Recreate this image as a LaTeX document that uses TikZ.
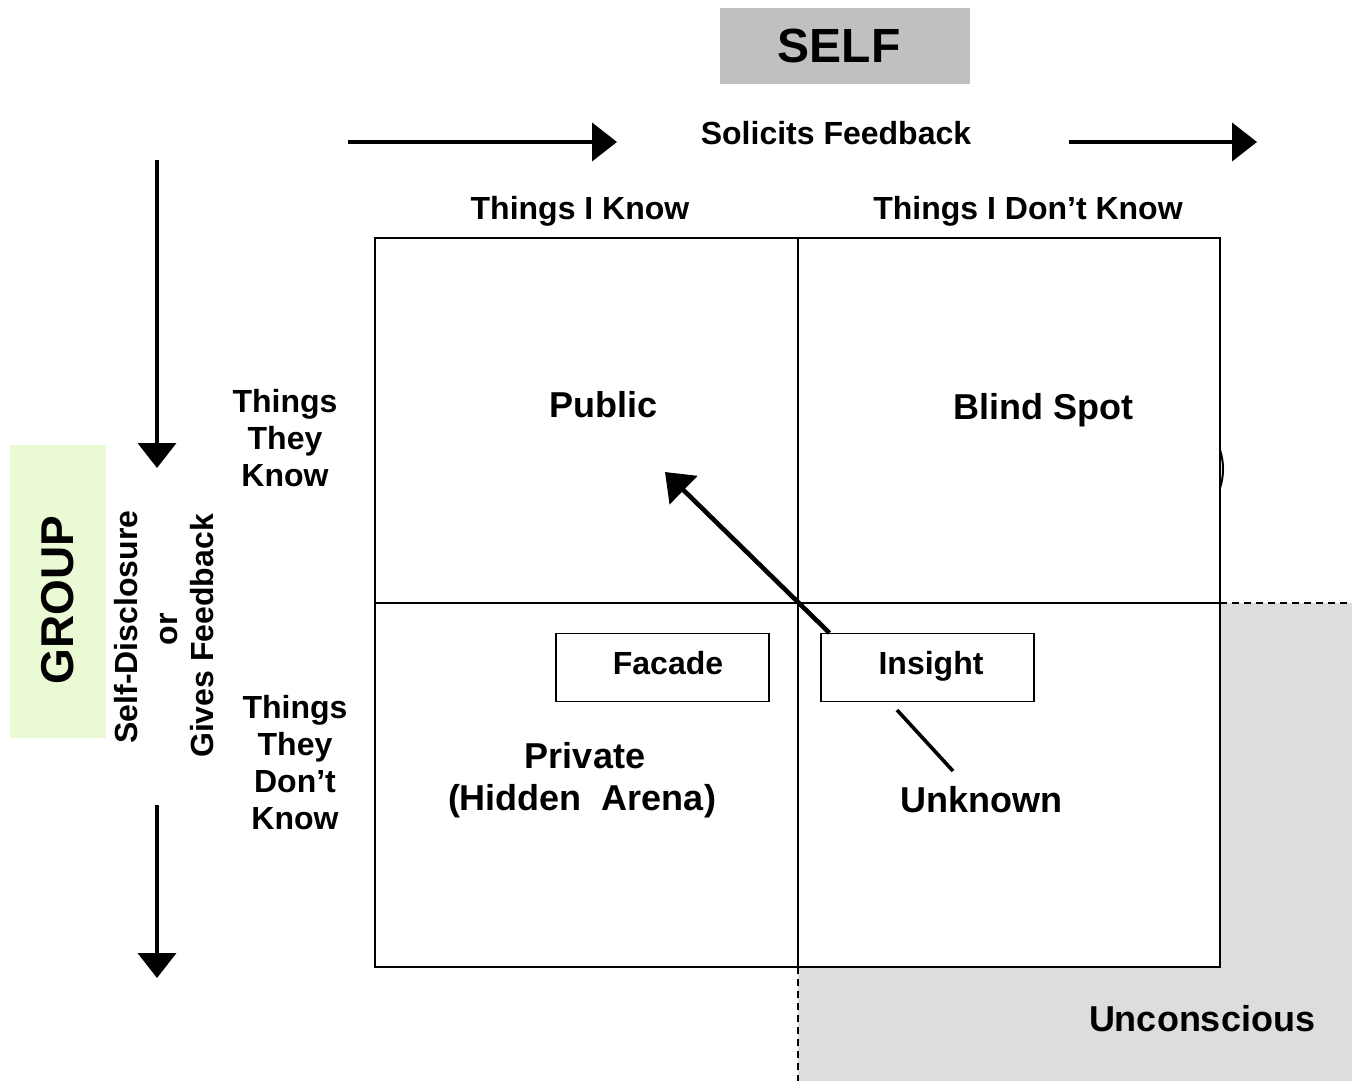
\documentclass[tikz,border=0pt]{standalone}
\usepackage{fontspec}
\setmainfont{Liberation Sans}
\usetikzlibrary{arrows.meta,calc}
\definecolor{selfgray}{RGB}{192,192,192}
\definecolor{zonegray}{RGB}{221,221,221}
\definecolor{groupgreen}{RGB}{234,250,212}
\begin{document}
\begin{tikzpicture}[x=0.5pt,y=-0.5pt,
  lbl/.style={font=\bfseries\fontsize{16}{18.5}\selectfont, inner sep=0pt, align=center},
  big/.style={font=\bfseries\fontsize{18}{21}\selectfont, inner sep=0pt, align=center},
  flow/.style={line width=2pt, -{Triangle[length=12.5pt,width=19pt]}},
  gridline/.style={line width=1.1pt},
  tag/.style={draw, line width=0.6pt, minimum width=106.5pt, minimum height=34pt, inner sep=0pt},
  zoneedge/.style={line width=1pt, dash pattern=on 3.5pt off 2.5pt}
]
\useasboundingbox (0,0) rectangle (1352,1081);

% unconscious zone around the lower right quadrant
\fill[zonegray] (1220,603) -- (1352,603) -- (1352,1081) -- (798,1081) -- (798,967) -- (1220,967) -- cycle;
\draw[zoneedge] (1220,603) -- (1352,603);
\draw[zoneedge] (798,967) -- (798,1081);

% the window
\fill[white] (375,238) rectangle (1220,967);
\draw[gridline] (375,238) rectangle (1220,967);
\draw[gridline] (798,238) -- (798,967);
\draw[gridline] (375,603) -- (1220,603);
\draw[line width=1pt] (1220,450) .. controls (1224,462) and (1224,476) .. (1220,488);

% SELF heading
\node[fill=selfgray, minimum width=125pt, minimum height=38pt, inner sep=0pt] (selfbox) at (845,46) {};
\node[font=\bfseries\fontsize{24}{28}\selectfont, inner sep=0pt, anchor=base] (selftext) at (839,63) {SELF};

% solicits feedback arrows
\coordinate (sfa) at (348,142);
\coordinate (sfb) at (617,142);
\coordinate (sfc) at (1069,142);
\coordinate (sfd) at (1257,142);
\draw[flow] (sfa) -- (sfb);
\draw[flow] (sfc) -- (sfd);
\node[lbl, anchor=base] (solicits) at (836,144) {Solicits Feedback};

% column headings
\node[lbl, anchor=base] (iknow) at (580,219) {Things I Know};
\node[lbl, anchor=base] (idontknow) at (1028,219) {Things I Don’t Know};

% row headings
\node[lbl] (theyknow) at (285,438) {Things\\They\\Know};
\node[lbl] (theydontknow) at (295,763) {Things\\They\\Don’t\\Know};

% GROUP side
\node[fill=groupgreen, minimum width=48pt, minimum height=146.5pt, inner sep=0pt] (groupbox) at (58,591.5) {};
\node[font=\bfseries\fontsize{23}{27}\selectfont, inner sep=0pt, rotate=90, anchor=base] (grouptext) at (73,600) {GROUP};
\node[lbl, rotate=90, anchor=base] (selfdisc) at (137,627) {Self-Disclosure};
\node[lbl, rotate=90, anchor=base] (ortext) at (177,629) {or};
\node[lbl, rotate=90, anchor=base] (gives) at (213,636) {Gives Feedback};

% self-disclosure arrows
\coordinate (gda) at (157,160);
\coordinate (gdb) at (157,468);
\coordinate (gdc) at (157,805);
\coordinate (gdd) at (157,978);
\draw[flow] (gda) -- (gdb);
\draw[flow] (gdc) -- (gdd);

% quadrant names
\node[big, anchor=base] (public) at (603,417) {Public};
\node[big, anchor=base] (blind) at (1043,419) {Blind Spot};
\node[big, anchor=base] (private) at (585,768) {Private};
\node[big, anchor=base] (hidden) at (582,810) {(Hidden\ \ Arena)};
\node[big, anchor=base] (unknown) at (981,812) {Unknown};
\node[big, anchor=base] (unconscious) at (1202,1031) {Unconscious};

% facade and insight boxes
\node[tag] (facadebox) at (662.5,667.5) {};
\node[lbl, anchor=base] (facade) at (668,674) {Facade};
\node[tag] (insightbox) at (927.5,667.5) {};
\node[lbl, anchor=base] (insight) at (931,674) {Insight};

% insight moves things into the public area
\coordinate (pubtip) at (665,472);
\draw[line width=2.3pt, -{Triangle[length=13pt,width=19.5pt]}] ($(insightbox.north west)+(9,0)$) -- (pubtip);
\coordinate (unkA) at (897,710);
\coordinate (unkB) at (953,771);
\draw[line width=1.8pt] (unkA) -- (unkB);
\end{tikzpicture}
\end{document}
